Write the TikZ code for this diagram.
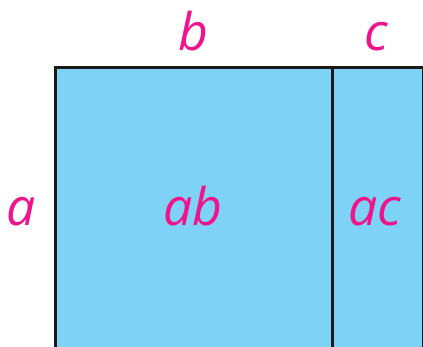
\documentclass[tikz,border=0pt]{standalone}
\usepackage{fontspec}
\setmainfont{Open Sans}
\definecolor{areaBlue}{RGB}{125,210,245}
\definecolor{labelPink}{RGB}{240,20,140}
\begin{document}
\begin{tikzpicture}[x=1bp, y=1bp,
    every node/.style={font=\fontsize{52}{60}\selectfont\itshape, text=labelPink, anchor=base, inner sep=0pt},
    edge line/.style={line width=3bp, draw=black!90}]
  \useasboundingbox (0,0) rectangle (423,347);
  % Split rectangle, cut off at right and bottom
  \begin{scope}
    \clip (0,0) rectangle (423,347);
    \coordinate (topSplit) at (332,279);
    \coordinate (botSplit) at (332,-10);
    \draw[edge line, fill=areaBlue] (55,-10) rectangle (423.5,279);
    \draw[edge line] (topSplit) -- (botSplit);
  \end{scope}
  % Side labels
  \node (lblB) at (193,297) {b};
  \node (lblC) at (376,297) {c};
  \node (lblA) at (21,122) {a};
  % Area labels
  \node (lblAB) at (193,122) {ab};
  \node (lblAC) at (375,122) {ac};
\end{tikzpicture}
\end{document}
